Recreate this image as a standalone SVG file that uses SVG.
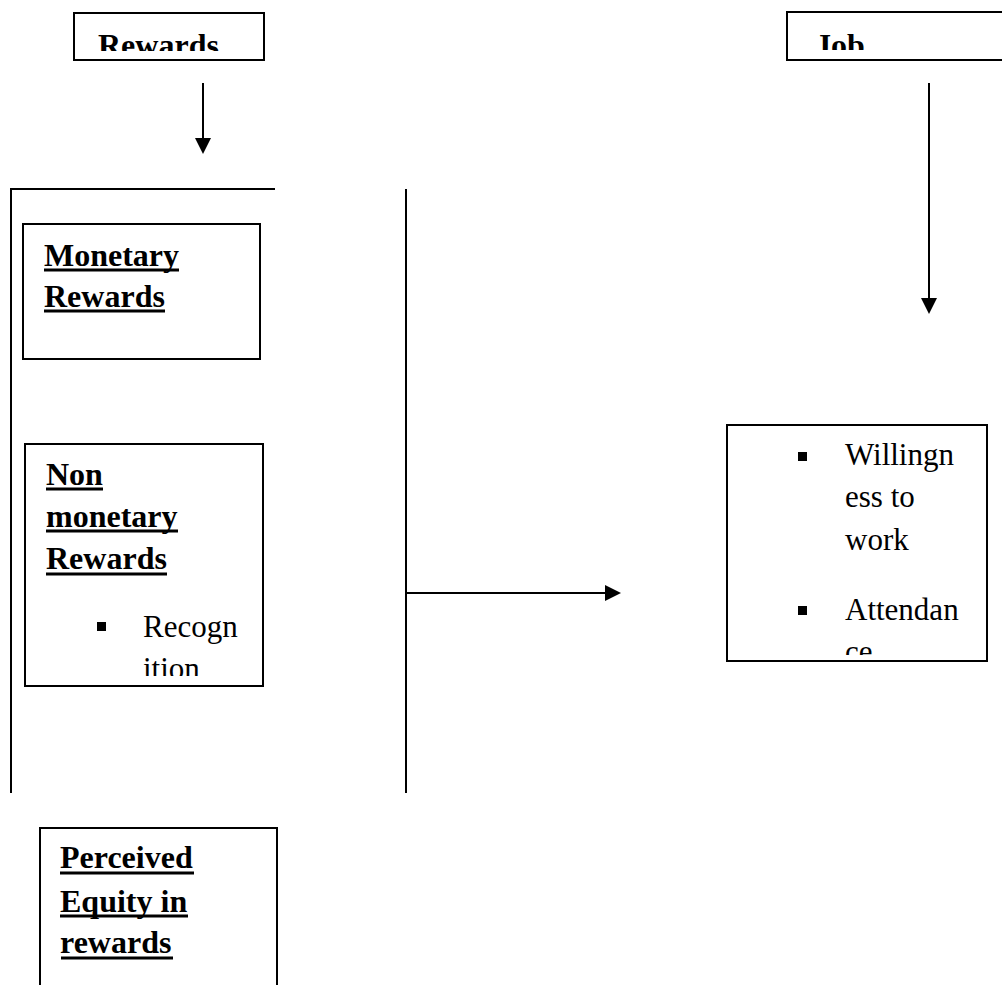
<svg xmlns="http://www.w3.org/2000/svg" width="1002" height="985" viewBox="0 0 1002 985">
<style>
.box{fill:#fff;stroke:#000;stroke-width:2}
.ln{stroke:#000;stroke-width:2;fill:none}
.ul{stroke:#000;stroke-width:3;fill:none}
.h{font-family:"Liberation Serif","Times New Roman",serif;font-size:32px;font-weight:bold;fill:#000}
.t{font-family:"Liberation Serif","Times New Roman",serif;font-size:31px;fill:#000}
</style>
<defs>
<clipPath id="c1"><rect x="74" y="13" width="190" height="38"/></clipPath>
<clipPath id="c2"><rect x="787" y="12" width="215" height="38"/></clipPath>
<clipPath id="c3"><rect x="25" y="444" width="238" height="232"/></clipPath>
<clipPath id="c4"><rect x="727" y="425" width="260" height="230"/></clipPath>
</defs>

<g id="connectors">
<line class="ln" x1="203" y1="83" x2="203" y2="140"/>
<path d="M195,138 L211,138 L203,154 z" fill="#000"/>
<line class="ln" x1="929" y1="83" x2="929" y2="300"/>
<path d="M921,298 L937,298 L929,314 z" fill="#000"/>
<line class="ln" x1="406" y1="593" x2="607" y2="593"/>
<path d="M605,585 L605,601 L621,593 z" fill="#000"/>
<polyline class="ln" points="275,189 11,189 11,793"/>
<line class="ln" x1="406" y1="189" x2="406" y2="793"/>
</g>

<g id="rewards">
<rect class="box" x="74" y="13" width="190" height="47"/>
<text class="h" x="98" y="56" clip-path="url(#c1)">Rewards</text>
</g>

<g id="job">
<rect class="box" x="787" y="12" width="230" height="48"/>
<text class="h" x="807" y="56" clip-path="url(#c2)">.Job</text>
</g>

<g id="monetary">
<rect class="box" x="23" y="224" width="237" height="135"/>
<text class="h" x="44" y="266">Monetary</text>
<text class="h" x="44" y="307">Rewards</text>
<line class="ul" x1="44" y1="270" x2="179" y2="270"/>
<line class="ul" x1="44" y1="311" x2="165" y2="311"/>
</g>

<g id="nonmonetary">
<rect class="box" x="25" y="444" width="238" height="242"/>
<g clip-path="url(#c3)">
<text class="h" x="46" y="485">Non</text>
<text class="h" x="46" y="527">monetary</text>
<text class="h" x="46" y="569">Rewards</text>
<line class="ul" x1="46" y1="489" x2="103" y2="489"/>
<line class="ul" x1="46" y1="531" x2="178" y2="531"/>
<line class="ul" x1="46" y1="574" x2="167" y2="574"/>
<rect x="97" y="622" width="9" height="9" fill="#000"/>
<text class="t" x="143" y="637">Recogn</text>
<text class="t" x="143" y="679">ition</text>
</g>
</g>

<g id="outcomes">
<rect class="box" x="727" y="425" width="260" height="236"/>
<g clip-path="url(#c4)">
<rect x="798" y="452" width="9" height="9" fill="#000"/>
<text class="t" x="845" y="465">Willingn</text>
<text class="t" x="845" y="507">ess to</text>
<text class="t" x="845" y="550">work</text>
<rect x="798" y="606" width="9" height="9" fill="#000"/>
<text class="t" x="845" y="620">Attendan</text>
<text class="t" x="845" y="662">ce</text>
</g>
</g>

<g id="equity">
<path class="box" d="M40,995 L40,828 L277,828 L277,995"/>
<text class="h" x="60" y="868">Perceived</text>
<text class="h" x="60" y="912">Equity in</text>
<text class="h" x="60" y="953">rewards</text>
<line class="ul" x1="60" y1="873" x2="194" y2="873"/>
<line class="ul" x1="60" y1="916" x2="188" y2="916"/>
<line class="ul" x1="61" y1="958" x2="173" y2="958"/>
</g>
</svg>
